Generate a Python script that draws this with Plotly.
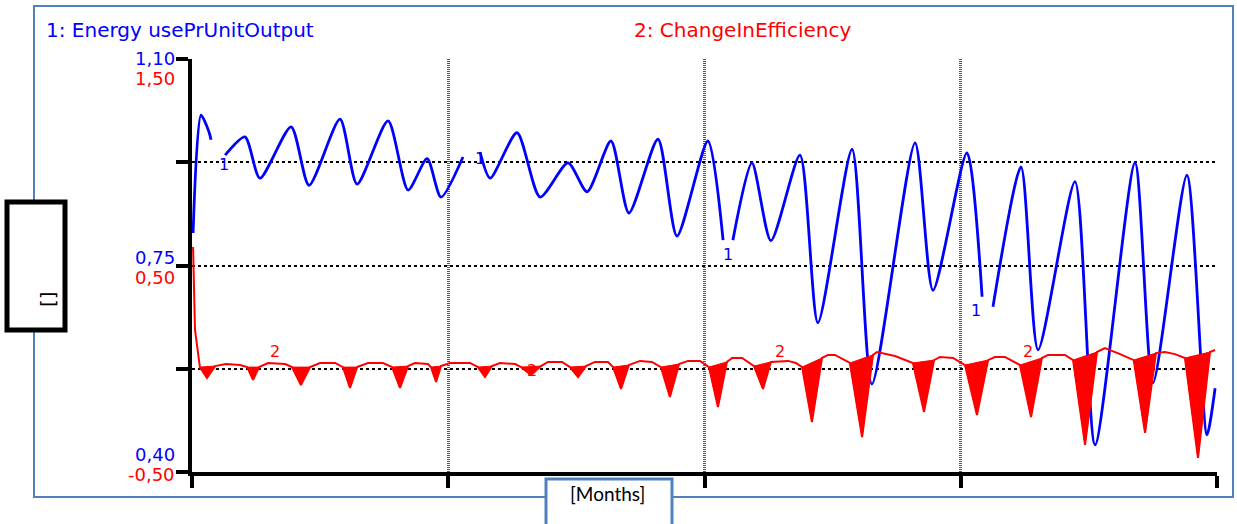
import plotly.graph_objects as go

# ---------------- data ----------------
# x in months (0..48); series 1 on the blue axis, series 2 on the red axis
blue_t = [0.05, 0.42, 0.80, 0.89, None, 1.55, 2.48, 3.18, 4.64, 5.48, 6.93, 7.73, 9.18, 10.12,
          11.01, 11.66, 12.69, None, 13.49, 13.96, 15.22, 16.30, 17.61, 18.50, 19.62, 20.46,
          21.82, 22.71, 24.16, 24.87, None, 25.33, 26.22, 27.11, 28.47, 29.31, 30.91, 31.84,
          33.86, 34.70, 36.29, 37.00, None, 37.51, 38.82, 39.62, 41.35, 42.29, 44.16, 45.00,
          46.59, 47.53, 47.91]
blue_v = [0.805, 1.005, 0.976, 0.963, None, 0.937, 0.968, 0.898, 0.985, 0.886, 0.998, 0.888,
          0.995, 0.878, 0.931, 0.866, 0.934, None, 0.942, 0.898, 0.975, 0.866, 0.924, 0.875,
          0.961, 0.839, 0.964, 0.800, 0.961, 0.793, None, 0.793, 0.924, 0.792, 0.937, 0.653,
          0.947, 0.549, 0.958, 0.708, 0.941, 0.697, None, 0.680, 0.917, 0.607, 0.892, 0.446,
          0.924, 0.551, 0.903, 0.463, 0.542]

red_t = [0.05, 0.14, 0.37, 0.70, 1.08,
         1.59, 2.25, 2.58, 2.86, 3.14,
         3.56, 4.36, 4.68, 5.10, 5.53,
         5.99, 6.70, 7.07, 7.40, 7.73,
         8.24, 8.94, 9.37, 9.74, 10.12,
         10.44, 11.05, 11.19, 11.43, 11.66,
         12.08, 13.02, 13.39, 13.72, 14.05,
         14.42, 15.13, 15.41, 15.88, 16.34,
         16.67, 17.33, 17.70, 18.08, 18.45,
         18.87, 19.48, 19.72, 20.09, 20.46,
         20.98, 21.54, 21.96, 22.38, 22.81,
         23.23, 23.79, 24.21, 24.63, 25.05,
         25.29, 25.76, 26.32, 26.74, 27.11,
         27.91, 28.28, 28.57, 29.03, 29.50,
         29.78, 30.11, 30.81, 31.38, 31.89,
         32.08, 32.92, 33.76, 34.28, 34.75,
         35.03, 35.64, 36.20, 36.76, 37.28,
         37.60, 38.07, 38.77, 39.29, 39.80,
         40.09, 40.88, 41.26, 41.82, 42.38,
         42.75, 43.46, 44.10, 44.63, 45.14,
         45.56, 46.03, 46.50, 47.11, 47.67,
         47.91]
red_v = [0.590, 0.188, 0.008, -0.045, 0.013,
         0.023, 0.018, 0.008, -0.054, 0.008,
         0.028, 0.023, 0.008, -0.079, 0.008,
         0.028, 0.028, 0.008, -0.093, 0.008,
         0.028, 0.028, 0.008, -0.093, 0.013,
         0.028, 0.023, 0.008, -0.064, 0.013,
         0.028, 0.028, 0.008, -0.040, 0.013,
         0.028, 0.023, 0.008, -0.030, 0.013,
         0.033, 0.033, 0.008, -0.040, 0.013,
         0.033, 0.033, 0.008, -0.098, 0.018,
         0.038, 0.033, 0.008, -0.137, 0.023,
         0.038, 0.038, 0.008, -0.185, 0.033,
         0.052, 0.052, 0.013, -0.098, 0.033,
         0.038, 0.028, 0.008, -0.258, 0.052,
         0.067, 0.067, 0.028, -0.331, 0.067,
         0.081, 0.062, 0.028, -0.209, 0.042,
         0.057, 0.052, 0.018, -0.224, 0.042,
         0.057, 0.057, 0.018, -0.234, 0.052,
         0.067, 0.067, 0.042, -0.369, 0.081,
         0.100, 0.071, 0.042, -0.311, 0.076,
         0.081, 0.071, 0.052, -0.432, 0.081,
         0.091]

x_ticks = [0, 12, 24, 36, 48]
blue_ticks = [1.10, 0.75, 0.40]
red_ticks = [1.50, 0.50, -0.50]
blue_grid = [0.40, 0.575, 0.75, 0.925, 1.10]

series1_name = "1: Energy usePrUnitOutput"
series2_name = "2: ChangeInEfficiency"
x_title = "[Months]"
y_title = "[]"

BLUE = "#0000FF"
RED = "#FF0000"
FRAME = "#4F81BD"
FONT = "DejaVu Sans"

# ---------------- figure ----------------
fig = go.Figure()

# filled dips of series 2 (local minima and their neighbours)
for i in range(1, len(red_v) - 1):
    if red_v[i] < 0 and red_v[i] < red_v[i - 1] and red_v[i] < red_v[i + 1]:
        fig.add_trace(go.Scatter(
            x=[red_t[i - 1], red_t[i], red_t[i + 1], red_t[i - 1]],
            y=[red_v[i - 1], red_v[i], red_v[i + 1], red_v[i - 1]],
            yaxis="y2", mode="lines", fill="toself", fillcolor=RED,
            line=dict(color=RED, width=1), hoverinfo="skip", showlegend=False))

fig.add_trace(go.Scatter(x=red_t, y=red_v, yaxis="y2", mode="lines",
                         line=dict(color=RED, width=2), name=series2_name,
                         showlegend=False))
fig.add_trace(go.Scatter(x=blue_t, y=blue_v, yaxis="y", mode="lines",
                         line=dict(color=BLUE, width=2.8, shape="spline", smoothing=0.7),
                         connectgaps=False, name=series1_name, showlegend=False))

L, R, T, B = 192, 20, 59, 52
W, H = 1237, 524
pw, ph = W - L - R, H - T - B


def px(xp):
    return (xp - L) / pw


def py(yp):
    return (H - B - yp) / ph


annotations = []
# tick labels (two scales)
blue_shift = [1, 8, 18]
red_shift = [-19, -12, -2]
for v, s in zip(blue_ticks, blue_shift):
    annotations.append(dict(x=px(177), y=v, xref="paper", yref="y", xanchor="right",
                            yanchor="middle", yshift=s, showarrow=False,
                            text=f"{v:.2f}".replace(".", ","),
                            font=dict(family=FONT, size=18, color=BLUE)))
for v, s in zip(red_ticks, red_shift):
    annotations.append(dict(x=px(177), y=v, xref="paper", yref="y2", xanchor="right",
                            yanchor="middle", yshift=s, showarrow=False,
                            text=f"{v:.2f}".replace(".", ","),
                            font=dict(family=FONT, size=18, color=RED)))

# series titles
annotations.append(dict(x=px(44), y=py(30), xref="paper", yref="paper", xanchor="left",
                        yanchor="middle", showarrow=False, text=series1_name,
                        font=dict(family=FONT, size=20, color=BLUE)))
annotations.append(dict(x=px(632), y=py(30), xref="paper", yref="paper", xanchor="left",
                        yanchor="middle", showarrow=False, text=series2_name,
                        font=dict(family=FONT, size=20, color=RED)))

# in-line series labels
for (xp, yp) in [(217, 153), (473, 147), (728, 255), (983, 310)]:
    annotations.append(dict(x=px(xp), y=py(yp), xref="paper", yref="paper", showarrow=False,
                            text="1", font=dict(family=FONT, size=16, color=BLUE)))
for (xp, yp) in [(268, 363), (525, 382), (780, 363), (1035, 363)]:
    annotations.append(dict(x=px(xp), y=py(yp), xref="paper", yref="paper", showarrow=False,
                            text="2", font=dict(family=FONT, size=16, color=RED)))

# axis titles in boxes
annotations.append(dict(x=px(607), y=py(507), xref="paper", yref="paper", showarrow=False,
                        text=x_title, font=dict(family="Lato", size=19, color="black")))
annotations.append(dict(x=px(34), y=py(299), xref="paper", yref="paper", showarrow=False,
                        text=y_title, textangle=-90,
                        font=dict(family=FONT, size=20, color="black")))

shapes = [
    dict(type="rect", xref="paper", yref="paper", x0=px(34), x1=px(1233), y0=py(497), y1=py(6),
         line=dict(color=FRAME, width=2), fillcolor="rgba(0,0,0,0)"),
    dict(type="rect", xref="paper", yref="paper", x0=px(7), x1=px(65), y0=py(330), y1=py(202),
         line=dict(color="black", width=5), fillcolor="white"),
    dict(type="rect", xref="paper", yref="paper", x0=px(546), x1=px(672), y0=py(535), y1=py(479),
         line=dict(color=FRAME, width=3), fillcolor="white"),
]

fig.update_layout(
    width=W, height=H, autosize=False,
    margin=dict(l=L, r=R, t=T, b=B),
    paper_bgcolor="white", plot_bgcolor="white",
    showlegend=False,
    xaxis=dict(range=[0, 48], tickvals=x_ticks, showticklabels=False,
               ticks="outside", ticklen=12, tickwidth=4, tickcolor="black",
               showline=True, linewidth=4, linecolor="black",
               showgrid=True, gridcolor="#555555", gridwidth=3, griddash="1px,1px",
               zeroline=False),
    yaxis=dict(range=[0.40, 1.10], tickvals=blue_grid, showticklabels=False,
               ticks="outside", ticklen=12, tickwidth=4, tickcolor="black",
               showline=True, linewidth=4, linecolor="black",
               showgrid=True, gridcolor="black", gridwidth=1.5, griddash="3px,3px",
               zeroline=False),
    yaxis2=dict(range=[-0.50, 1.50], overlaying="y", visible=False),
    annotations=annotations,
    shapes=shapes,
)

fig.write_html("out.html", config={"displayModeBar": False},
               post_script="document.body.style.margin='0px';")
